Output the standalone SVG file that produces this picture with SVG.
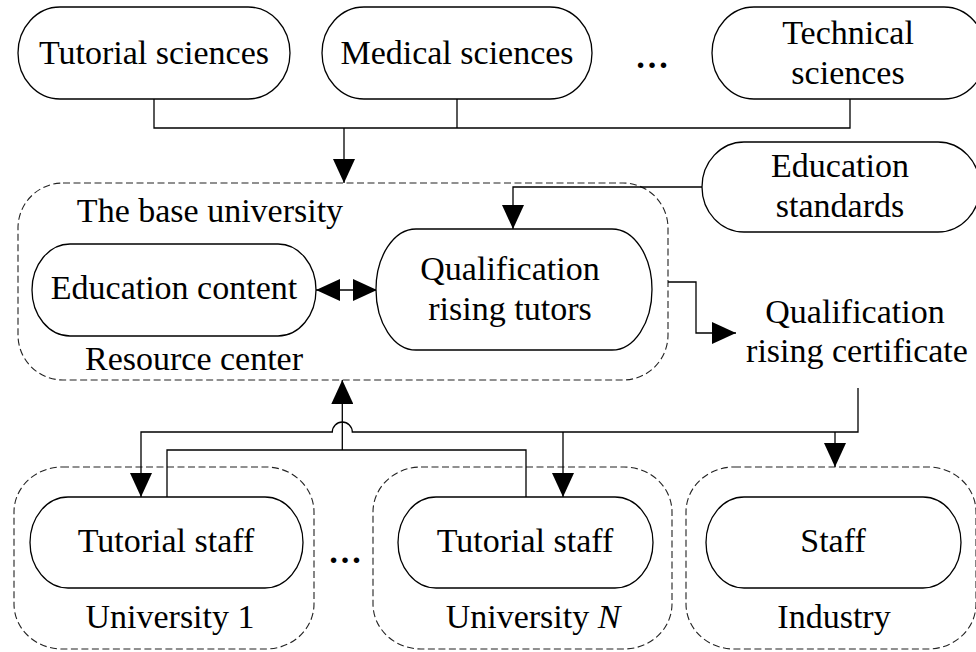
<svg xmlns="http://www.w3.org/2000/svg" width="976" height="652" viewBox="0 0 976 652">
<defs>
<style>
.node{fill:#fff;stroke:#000;stroke-width:1.3}
.grp{fill:none;stroke:#222;stroke-width:1.1;stroke-dasharray:7 3.5}
.t{font-family:"Liberation Serif","Times New Roman",serif;font-size:34px;fill:#000;text-anchor:middle}
.c{fill:none;stroke:#000;stroke-width:1.3}
</style>
<marker id="ah" viewBox="0 0 24 22" refX="24" refY="11" markerWidth="24" markerHeight="22" markerUnits="userSpaceOnUse" orient="auto-start-reverse">
<path d="M0,0 L24,11 L0,22 Z" fill="#000"/>
</marker>
</defs>
<rect width="976" height="652" fill="#fff"/>

<g id="base-university">
<rect class="grp" x="18" y="183" width="650" height="197" rx="45" ry="45"/>
<text class="t" x="210" y="222">The base university</text>
<text class="t" x="194" y="370">Resource center</text>
</g>
<g id="university-1">
<rect class="grp" x="14" y="467" width="300" height="182" rx="48" ry="45"/>
<text class="t" x="170" y="628">University 1</text>
</g>
<g id="university-n">
<rect class="grp" x="373" y="467" width="299" height="182" rx="48" ry="45"/>
<text class="t" x="533" y="628">University <tspan font-style="italic">N</tspan></text>
</g>
<g id="industry">
<rect class="grp" x="686" y="467" width="290" height="182" rx="48" ry="45"/>
<text class="t" x="834" y="628">Industry</text>
</g>

<g id="connectors">
<path class="c" d="M154,99 V128 H850 V99 M457,99 V128"/>
<path class="c" d="M344,128 V183" marker-end="url(#ah)"/>
<path class="c" d="M702,187 H513 V229" marker-end="url(#ah)"/>
<path class="c" d="M316,290 H377" marker-start="url(#ah)" marker-end="url(#ah)"/>
<path class="c" d="M668,282 H696 V333 H736" marker-end="url(#ah)"/>
<path class="c" d="M858,388 V432 H352.3 A10,10 0 0 0 332.3,432 H141 V497" marker-end="url(#ah)"/>
<path class="c" d="M563,432 V497" marker-end="url(#ah)"/>
<path class="c" d="M835,432 V467" marker-end="url(#ah)"/>
<path class="c" d="M167,497 V450 H526 V497"/>
<path class="c" d="M342.3,450 V380" marker-end="url(#ah)"/>
</g>

<g id="tutorial-sciences">
<rect class="node" x="18" y="7" width="272" height="92" rx="42" ry="46"/>
<text class="t" x="154" y="64">Tutorial sciences</text>
</g>
<g id="medical-sciences">
<rect class="node" x="322" y="7" width="270" height="92" rx="42" ry="46"/>
<text class="t" x="457" y="64">Medical sciences</text>
</g>
<g id="dots-top">
<text class="t" x="652" y="68" font-weight="bold">…</text>
</g>
<g id="technical-sciences">
<rect class="node" x="712" y="7" width="274" height="92" rx="42" ry="46"/>
<text class="t" x="848" y="44">Technical</text>
<text class="t" x="848" y="84">sciences</text>
</g>
<g id="education-standards">
<rect class="node" x="702" y="142" width="278" height="90" rx="42" ry="45"/>
<text class="t" x="840" y="177">Education</text>
<text class="t" x="840" y="217">standards</text>
</g>
<g id="education-content">
<rect class="node" x="32" y="244" width="284" height="92" rx="38" ry="46"/>
<text class="t" x="174" y="299">Education content</text>
</g>
<g id="qualification-rising-tutors">
<rect class="node" x="376" y="229" width="276" height="121" rx="40" ry="60.5"/>
<text class="t" x="510" y="280">Qualification</text>
<text class="t" x="510" y="320">rising tutors</text>
</g>
<g id="qualification-rising-certificate">
<text class="t" x="855" y="323">Qualification</text>
<text class="t" x="857" y="362">rising certificate</text>
</g>
<g id="tutorial-staff-1">
<rect class="node" x="30" y="497" width="273" height="91" rx="38" ry="45.5"/>
<text class="t" x="166" y="552">Tutorial staff</text>
</g>
<g id="dots-bottom">
<text class="t" x="345" y="563" font-weight="bold">…</text>
</g>
<g id="tutorial-staff-n">
<rect class="node" x="398" y="497" width="255" height="91" rx="38" ry="45.5"/>
<text class="t" x="525" y="552">Tutorial staff</text>
</g>
<g id="staff">
<rect class="node" x="706" y="497" width="255" height="91" rx="38" ry="45.5"/>
<text class="t" x="833" y="552">Staff</text>
</g>
</svg>
